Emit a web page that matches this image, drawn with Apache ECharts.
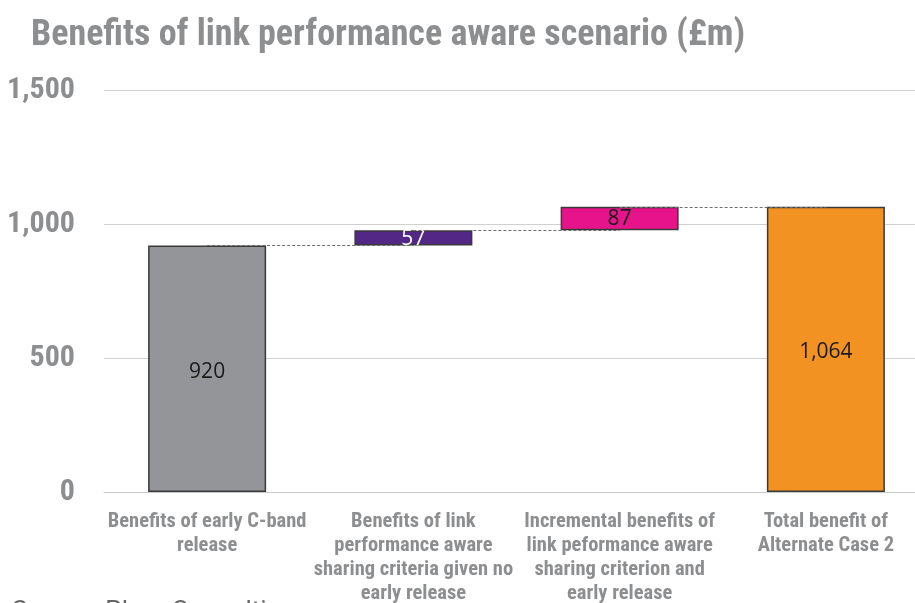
<!DOCTYPE html>
<html>
<head>
<meta charset="utf-8">
<script src="https://cdn.jsdelivr.net/npm/echarts@6/dist/echarts.min.js"></script>
<style>
html,body{margin:0;padding:0;background:#fff;}
#chart{width:915px;height:603px;}
</style>
</head>
<body>
<div id="chart"></div>
<script>
const categories = [
  "Benefits of early C-band\nrelease",
  "Benefits of link\nperformance aware\nsharing criteria given no\nearly release",
  "Incremental benefits of\nlink peformance aware\nsharing criterion and\nearly release",
  "Total benefit of\nAlternate Case 2"
];
const stepValues = [920, 57, 87, 1064];
const isTotal = [true, false, false, true];
const barColors = ["#939598", "#532785", "#e6138a", "#f29222"];
const labelColors = ["#1a1a1a", "#ffffff", "#1a1a1a", "#1a1a1a"];
const yTicks = [0, 500, 1000, 1500];
const titleText = "Benefits of link performance aware scenario (£m)";
const sourceText = "Source: Plum Consulting";

// waterfall bases computed from the step values
const bases = [];
const tops = [];
let running = 0;
stepValues.forEach((v, i) => {
  if (isTotal[i]) { bases.push(0); running = v; tops.push(v); }
  else { bases.push(running); running += v; tops.push(running); }
});

const connectorData = [];
for (let i = 0; i < categories.length - 1; i++) {
  connectorData.push([{ coord: [i, tops[i]] }, { coord: [i + 1, tops[i]] }]);
}

const narrow = "'Liberation Sans Narrow','Arial Narrow','Roboto Condensed',sans-serif";
const chart = echarts.init(document.getElementById('chart'));
chart.setOption({
  animation: false,
  title: {
    text: titleText,
    left: 26, top: 13,
    textStyle: { fontFamily: narrow, fontWeight: 'bold', fontSize: 36, color: '#8d8e90' }
  },
  graphic: [{
    type: 'text', left: 12, top: 599,
    style: { text: sourceText, fontFamily: "'Roboto',sans-serif", fontSize: 26, fill: '#666666' }
  }],
  grid: { left: 104, width: 825, top: 90, height: 402, containLabel: false, outerBoundsMode: 'none' },
  xAxis: {
    type: 'category',
    data: categories,
    axisTick: { show: false },
    axisLine: { lineStyle: { color: '#c8c8c8', width: 1 } },
    axisLabel: {
      interval: 0, margin: 18,
      fontFamily: narrow, fontWeight: 'bold', fontSize: 20.5, lineHeight: 24,
      color: '#8d8e90', align: 'center'
    }
  },
  yAxis: {
    type: 'value',
    min: 0, max: 1500, interval: 500,
    axisLine: { show: false },
    axisTick: { show: false },
    splitLine: { lineStyle: { color: '#d0d0d0', width: 1 } },
    axisLabel: {
      margin: 29,
      fontFamily: narrow, fontWeight: 'bold', fontSize: 30, color: '#8d8e90',
      formatter: v => yTicks.includes(v) ? v.toLocaleString('en-GB') : ''
    }
  },
  series: [
    {
      type: 'line', data: [], z: 1, silent: true,
      markLine: {
        symbol: 'none', silent: true, label: { show: false },
        lineStyle: { color: '#6e6e6e', type: [3, 2], width: 1.2 },
        data: connectorData
      }
    },
    {
      type: 'bar', stack: 'w', z: 2, barWidth: 118, silent: true,
      itemStyle: { color: 'transparent' },
      data: bases
    },
    {
      type: 'bar', stack: 'w', z: 3, barWidth: 118,
      data: stepValues.map((v, i) => ({
        value: v,
        itemStyle: { color: barColors[i], borderColor: '#3a3a3a', borderWidth: 1.5 },
        label: { color: labelColors[i], offset: [0, isTotal[i] ? 3 : 1] }
      })),
      label: {
        show: true, position: 'inside',
        fontFamily: "'Open Sans','Noto Sans',sans-serif", fontSize: 21,
        formatter: p => p.value.toLocaleString('en-GB')
      }
    }
  ]
});
</script>
</body>
</html>
